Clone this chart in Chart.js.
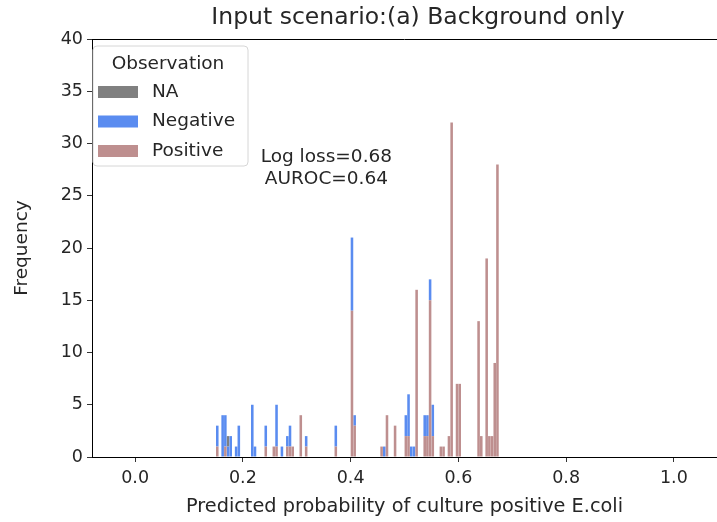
<!DOCTYPE html>
<html>
<head>
<meta charset="utf-8">
<script src="https://cdn.jsdelivr.net/npm/chart.js@4.4.1/dist/chart.umd.min.js"></script>
<style>
  html, body { margin: 0; padding: 0; background: #fff; }
  #wrap { width: 717px; height: 522px; }
</style>
</head>
<body>
<div id="wrap"><canvas id="c" width="717" height="522"></canvas></div>
<script>
// histogram bins (centre of each 0.005 wide bin) and counts per observation group
const binCenters = [0.1525, 0.1625, 0.1675, 0.1725, 0.1775, 0.1875, 0.1925, 0.2175, 0.2225, 0.2425,
                    0.2575, 0.2625, 0.2725, 0.2825, 0.2875, 0.2925, 0.3075, 0.3175, 0.3725, 0.4025,
                    0.4075, 0.4575, 0.4625, 0.4675, 0.4825, 0.5025, 0.5075, 0.5125, 0.5175, 0.5225,
                    0.5375, 0.5425, 0.5475, 0.5525, 0.5675, 0.5725, 0.5825, 0.5875, 0.5975, 0.6025,
                    0.6375, 0.6425, 0.6525, 0.6575, 0.6625, 0.6675, 0.6725];
const positiveCounts = [1, 0, 1, 0, 0, 0, 0, 0, 0, 1,
                        1, 1, 0, 1, 1, 1, 4, 1, 1, 14,
                        3, 1, 0, 4, 3, 2, 2, 0, 0, 16,
                        2, 2, 15, 2, 1, 1, 2, 32, 7, 7,
                        13, 2, 19, 2, 2, 9, 28];
const negativeCounts = [2, 4, 3, 1, 2, 1, 3, 5, 1, 2,
                        0, 4, 1, 1, 2, 0, 0, 1, 2, 7,
                        1, 0, 1, 0, 0, 2, 4, 1, 1, 0,
                        2, 2, 2, 3, 0, 0, 0, 0, 0, 0,
                        0, 0, 0, 0, 0, 0, 0];
const naCounts =       [0, 0, 0, 1, 0, 0, 0, 0, 0, 0,
                        0, 0, 0, 0, 0, 0, 0, 0, 0, 0,
                        0, 0, 0, 0, 0, 0, 0, 0, 0, 0,
                        0, 0, 0, 0, 0, 0, 0, 0, 0, 0,
                        0, 0, 0, 0, 0, 0, 0];

const xTicks = [0.0, 0.2, 0.4, 0.6, 0.8, 1.0];
const yTicks = [0, 5, 10, 15, 20, 25, 30, 35, 40];
const legendLabels = ["NA", "Negative", "Positive"];
const legendColors = ["rgb(128,128,128)", "rgb(90,140,240)", "rgb(190,143,143)"];
const annotationLines = ["Log loss=0.68", "AUROC=0.64"];
const titleText = "Input scenario:(a) Background only";

Chart.defaults.font.family = '"DejaVu Sans", sans-serif';
Chart.defaults.font.size = 18;
Chart.defaults.color = "#262626";

function toPoints(counts) {
  return binCenters.map((x, i) => ({ x: x, y: counts[i] }));
}

// title, top spine, text box and legend drawn on top of the plot
const overlay = {
  id: "overlay",
  afterDraw(chart) {
    const { ctx, chartArea: a, scales: { x, y } } = chart;
    ctx.save();

    ctx.strokeStyle = "#000";
    ctx.lineWidth = 1;
    ctx.beginPath();
    ctx.moveTo(a.left, a.top + 0.5);
    ctx.lineTo(a.right, a.top + 0.5);
    ctx.stroke();

    ctx.fillStyle = "#262626";
    ctx.textAlign = "center";
    ctx.textBaseline = "middle";
    ctx.font = '23.5px "DejaVu Sans"';
    ctx.fillText(titleText, x.getPixelForValue(0.525), 18);

    ctx.font = '18.5px "DejaVu Sans"';
    ctx.fillText(annotationLines[0], x.getPixelForValue(0.355), y.getPixelForValue(28.7));
    ctx.fillText(annotationLines[1], x.getPixelForValue(0.355), y.getPixelForValue(26.6));

    // legend frame
    const bx = 93, by = 46, bw = 155, bh = 120, r = 4;
    ctx.beginPath();
    ctx.moveTo(bx + r, by);
    ctx.arcTo(bx + bw, by, bx + bw, by + bh, r);
    ctx.arcTo(bx + bw, by + bh, bx, by + bh, r);
    ctx.arcTo(bx, by + bh, bx, by, r);
    ctx.arcTo(bx, by, bx + bw, by, r);
    ctx.closePath();
    ctx.fillStyle = "rgba(255,255,255,0.85)";
    ctx.fill();
    ctx.strokeStyle = "#d6d6d6";
    ctx.stroke();

    ctx.fillStyle = "#262626";
    ctx.textAlign = "center";
    ctx.fillText("Observation", 168, 64);

    ctx.textAlign = "left";
    legendLabels.forEach((lab, i) => {
      const cy = 92 + i * 29.5;
      ctx.fillStyle = legendColors[i];
      ctx.fillRect(98, cy - 6, 40, 12);
      ctx.fillStyle = "#262626";
      ctx.fillText(lab, 152, cy);
    });

    ctx.restore();
  }
};

new Chart(document.getElementById("c"), {
  type: "bar",
  data: {
    datasets: [
      { label: "Positive", data: toPoints(positiveCounts), backgroundColor: "rgb(190,143,143)" },
      { label: "Negative", data: toPoints(negativeCounts), backgroundColor: "rgb(90,140,240)" },
      { label: "NA", data: toPoints(naCounts), backgroundColor: "rgb(128,128,128)" }
    ]
  },
  plugins: [overlay],
  options: {
    responsive: false,
    animation: false,
    layout: { padding: { top: 39, right: 0, bottom: 0, left: 0 } },
    datasets: { bar: { barPercentage: 0.95, categoryPercentage: 1 } },
    plugins: {
      legend: { display: false },
      title: { display: false },
      tooltip: { enabled: false }
    },
    scales: {
      x: {
        type: "linear",
        stacked: true,
        offset: false,
        min: -0.08,
        max: 1.08,
        afterBuildTicks: s => { s.ticks = xTicks.map(v => ({ value: v })); },
        afterFit: s => { s.height = 65; },
        ticks: { padding: 6, color: "#262626", font: { size: 17.5 }, callback: v => Number(v).toFixed(1) },
        grid: { offset: false, drawOnChartArea: false, drawTicks: true, tickLength: 5, color: "#333" },
        border: { display: true, color: "#000", width: 1 },
        title: { display: true, text: "Predicted probability of culture positive E.coli",
                 padding: { top: 4, bottom: 3 }, color: "#262626", font: { size: 19.3 } }
      },
      y: {
        stacked: true,
        min: 0,
        max: 40,
        afterBuildTicks: s => { s.ticks = yTicks.map(v => ({ value: v })); },
        afterFit: s => { s.width = 92; },
        ticks: { padding: 4, color: "#262626", font: { size: 17.5 } },
        grid: { drawOnChartArea: false, drawTicks: true, tickLength: 5, color: "#333" },
        border: { display: true, color: "#000", width: 1 },
        title: { display: true, text: "Frequency", padding: { top: 11, bottom: 4 }, color: "#262626",
                 font: { size: 18.5 } }
      }
    }
  }
});
</script>
</body>
</html>
